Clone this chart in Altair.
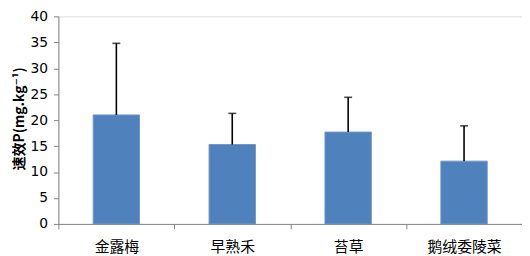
import altair as alt
import pandas as pd

categories = ["金露梅", "早熟禾", "苔草", "鹅绒委陵菜"]
means = [21.0, 15.3, 17.7, 12.1]
sd = [13.8, 6.0, 6.7, 6.8]
y_ticks = [0, 5, 10, 15, 20, 25, 30, 35, 40]

df = pd.DataFrame({
    "cat": categories,
    "mean": means,
    "upper": [m + s for m, s in zip(means, sd)],
})

FONT = "DejaVu Sans, Noto Sans CJK SC, sans-serif"
CJK = "Noto Sans CJK SC, DejaVu Sans, sans-serif"
AXIS_GRAY = "#868686"

x_axis = alt.Axis(
    title=None, labelAngle=0, tickBand="extent",
    domainColor=AXIS_GRAY, tickColor=AXIS_GRAY, tickSize=5,
    labelFont=CJK, labelFontSize=15, labelColor="#000000",
    labelPadding=11,
)
y_axis = alt.Axis(
    values=y_ticks, grid=False, labelOverlap=False, tickCount=9,
    title="速效P(mg.kg⁻¹)", titleFont=CJK, titleFontSize=14,
    titleFontWeight="bold", titleColor="#000000",
    titleAngle=-90, titleX=-39, titleY=103, titleAlign="center",
    titleBaseline="middle",
    domainColor=AXIS_GRAY, tickColor=AXIS_GRAY, tickSize=5,
    labelFont=FONT, labelFontSize=14, labelColor="#000000",
    labelPadding=6,
)

x_scale = alt.Scale(paddingInner=0, paddingOuter=0)
y_scale = alt.Scale(domain=[0, 40], nice=False)

bars = alt.Chart(df).mark_bar(
    width=alt.RelativeBandSize(0.4), color="#4F81BD",
    stroke="#7196C8", strokeWidth=1,
).encode(
    x=alt.X("cat:N", sort=categories, scale=x_scale, axis=x_axis),
    y=alt.Y("mean:Q", scale=y_scale, axis=y_axis),
)

err = alt.Chart(df).mark_rule(color="#000000", strokeWidth=1.6).encode(
    x=alt.X("cat:N", sort=categories, scale=x_scale, axis=x_axis),
    y=alt.Y("mean:Q", scale=y_scale, axis=y_axis),
    y2="upper:Q",
)

caps = alt.Chart(df).mark_tick(
    color="#000000", thickness=1.6, size=8, orient="horizontal"
).encode(
    x=alt.X("cat:N", sort=categories, scale=x_scale, axis=x_axis),
    y=alt.Y("upper:Q", scale=y_scale, axis=y_axis),
)

chart = alt.layer(bars, err, caps).properties(
    width=469, height=210,
    padding={"left": 51, "top": 7, "right": 0, "bottom": 31},
    autosize=alt.AutoSizeParams(type="none"),
).configure_view(stroke=None).configure(background="white")

chart.save("out.html", embed_options={"renderer": "svg", "actions": False})
